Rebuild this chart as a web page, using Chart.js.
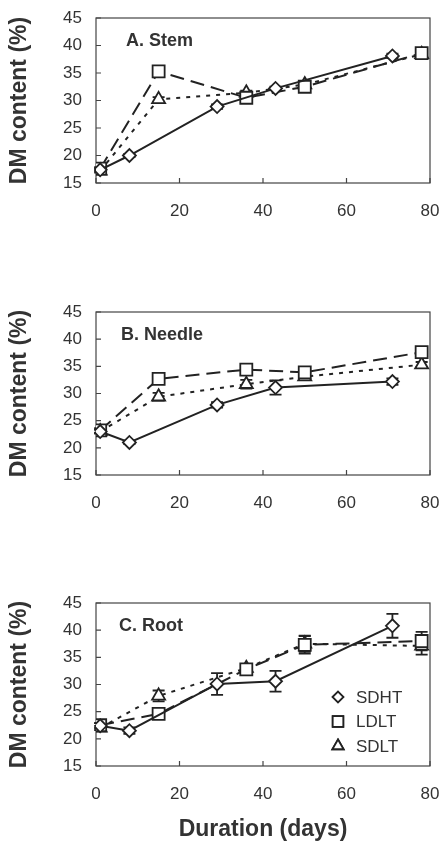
<!DOCTYPE html>
<html>
<head>
<meta charset="utf-8">
<script src="https://cdn.jsdelivr.net/npm/chart.js@4.4.0/dist/chart.umd.min.js"></script>
<style>
  html, body { margin: 0; padding: 0; background: #fff; }
  .panel { position: absolute; left: 0; width: 443px; }
</style>
</head>
<body>
<div class="panel" style="top:0;height:230px"><canvas id="stem"></canvas></div>
<div class="panel" style="top:290px;height:230px"><canvas id="needle"></canvas></div>
<div class="panel" style="top:580px;height:263px"><canvas id="root"></canvas></div>
<script>
// sampling days
const sdhtDays = [1, 8, 29, 43, 71];
const ltDays = [1, 15, 36, 50, 78];
const seriesNames = ['SDHT', 'LDLT', 'SDLT'];

// A. Stem
const stemSDHT = [17.4, 20.0, 28.9, 32.2, 38.1];
const stemLDLT = [17.6, 35.3, 30.5, 32.5, 38.6];
const stemSDLT = [17.2, 30.2, 31.4, 32.9, 38.4];
const stemErrSDHT = [0.3, 0.3, 0.4, 0.3, 0.4];
const stemErrLDLT = [0.3, 0.4, 0.4, 0.4, 0.4];
const stemErrSDLT = [0.3, 0.4, 0.4, 0.4, 0.4];

// B. Needle
const needleSDHT = [23.0, 21.0, 27.9, 31.1, 32.2];
const needleLDLT = [23.2, 32.7, 34.4, 33.9, 37.6];
const needleSDLT = [23.0, 29.4, 31.7, 33.1, 35.3];
const needleErrSDHT = [0.4, 0.3, 0.5, 1.3, 0.6];
const needleErrLDLT = [0.4, 0.6, 0.5, 0.5, 0.6];
const needleErrSDLT = [0.3, 0.7, 0.8, 0.5, 0.5];

// C. Root
const rootSDHT = [22.4, 21.5, 30.1, 30.6, 40.8];
const rootLDLT = [22.5, 24.6, 32.8, 37.3, 38.0];
const rootSDLT = [22.0, 27.9, 33.0, 37.5, 37.1];
const rootErrSDHT = [0.5, 0.6, 2.0, 1.9, 2.2];
const rootErrLDLT = [0.4, 0.5, 0.7, 1.6, 1.7];
const rootErrSDLT = [0.4, 1.0, 0.7, 1.5, 1.6];

const yMin = 15, yMax = 45, yStep = 5;
const xMin = 0, xMax = 80, xStep = 20;

const ink = '#222';
const FONT = "'Liberation Sans', Arial, Helvetica, sans-serif";
Chart.defaults.font.family = FONT;
Chart.defaults.color = '#333';

const styles = [
  { pointStyle: 'rectRot', pointRadius: 6.5, borderDash: [] },
  { pointStyle: 'rect', pointRadius: 8.5, borderDash: [14, 7] },
  { pointStyle: 'triangle', pointRadius: 7.5, borderDash: [4, 6] }
];

const paperPlugin = {
  id: 'paper',
  beforeDatasetsDraw(chart) {
    const { ctx, chartArea: a, scales: { x, y } } = chart;
    ctx.save();
    ctx.strokeStyle = '#444';
    ctx.lineWidth = 1.2;
    ctx.strokeRect(a.left, a.top, a.right - a.left, a.bottom - a.top);
    ctx.beginPath();
    y.ticks.forEach(t => {
      const py = y.getPixelForValue(t.value);
      ctx.moveTo(a.left, py); ctx.lineTo(a.left + 5, py);
    });
    x.ticks.forEach(t => {
      const px = x.getPixelForValue(t.value);
      ctx.moveTo(px, a.bottom); ctx.lineTo(px, a.bottom - 5);
    });
    ctx.stroke();

    // error bars
    ctx.strokeStyle = ink;
    ctx.lineWidth = 1.8;
    chart.data.datasets.forEach(ds => {
      ds.data.forEach((p, i) => {
        const e = ds.err[i];
        if (!e) return;
        const px = x.getPixelForValue(p.x);
        const top = y.getPixelForValue(p.y + e);
        const bot = y.getPixelForValue(p.y - e);
        ctx.beginPath();
        ctx.moveTo(px, top); ctx.lineTo(px, bot);
        ctx.moveTo(px - 6, top); ctx.lineTo(px + 6, top);
        ctx.moveTo(px - 6, bot); ctx.lineTo(px + 6, bot);
        ctx.stroke();
      });
    });
    ctx.restore();
  },
  afterDraw(chart, args, opts) {
    const { ctx, chartArea: a } = chart;
    ctx.save();
    ctx.fillStyle = '#333';
    ctx.font = 'bold 18px ' + FONT;
    ctx.textBaseline = 'alphabetic';
    ctx.textAlign = 'left';
    ctx.fillText(opts.title, a.left + opts.titleX, a.top + 28);

    if (opts.legend) {
      ctx.font = '17px ' + FONT;
      ctx.textBaseline = 'middle';
      chart.data.datasets.forEach((ds, i) => {
        const mx = a.left + 242, my = a.top + 94 + i * 24.5;
        Chart.helpers.drawPoint(ctx, {
          pointStyle: ds.pointStyle, radius: ds.pointRadius - 1, borderWidth: 1.8, rotation: 0
        }, mx, my);
        ctx.fillStyle = '#fff';
        ctx.strokeStyle = ink;
        ctx.lineWidth = 1.8;
        ctx.beginPath();
        Chart.helpers.drawPoint(ctx, {
          pointStyle: ds.pointStyle, radius: ds.pointRadius - 1, borderWidth: 1.8, rotation: 0
        }, mx, my);
        ctx.fillStyle = '#333';
        ctx.fillText(ds.label, mx + 18, my + 1);
      });
    }
    ctx.restore();
  }
};

function makePanel(id, title, titleX, values, errors, padTop, xHeight, withXTitle, withLegend) {
  const datasets = seriesNames.map((name, k) => {
    const days = k === 0 ? sdhtDays : ltDays;
    return {
      label: name,
      data: days.map((d, i) => ({ x: d, y: values[k][i] })),
      err: errors[k],
      showLine: true,
      borderColor: ink,
      borderWidth: 2,
      borderDash: styles[k].borderDash,
      pointStyle: styles[k].pointStyle,
      pointRadius: styles[k].pointRadius,
      pointBackgroundColor: '#fff',
      pointBorderColor: ink,
      pointBorderWidth: 1.8,
      tension: 0
    };
  });

  new Chart(document.getElementById(id), {
    type: 'scatter',
    data: { datasets },
    options: {
      responsive: true,
      maintainAspectRatio: false,
      animation: false,
      layout: { padding: { top: padTop, right: 13, left: 0, bottom: 0 } },
      plugins: {
        legend: { display: false },
        tooltip: { enabled: false },
        paper: { title: title, titleX: titleX, legend: withLegend }
      },
      scales: {
        x: {
          type: 'linear',
          min: xMin, max: xMax,
          ticks: { stepSize: xStep, padding: 18, color: '#333', font: { size: 17 } },
          grid: { display: false, drawTicks: false },
          border: { display: false },
          title: {
            display: withXTitle, text: 'Duration (days)', color: '#333',
            font: { size: 23, weight: 'bold' }, padding: { top: 0, bottom: 0 }
          },
          afterFit: s => { s.height = xHeight; s.paddingLeft = 0; s.paddingRight = 0; }
        },
        y: {
          min: yMin, max: yMax,
          ticks: { stepSize: yStep, padding: 14, color: '#333', font: { size: 17 } },
          grid: { display: false, drawTicks: false },
          border: { display: false },
          title: {
            display: true, text: 'DM content (%)', color: '#333',
            font: { size: 23, weight: 'bold' }, padding: { top: 6, bottom: 0 }
          },
          afterFit: s => { s.width = 96; s.paddingTop = 0; s.paddingBottom = 0; }
        }
      }
    },
    plugins: [paperPlugin]
  });
}

makePanel('stem', 'A. Stem', 30,
  [stemSDHT, stemLDLT, stemSDLT], [stemErrSDHT, stemErrLDLT, stemErrSDLT],
  18, 47, false, false);
makePanel('needle', 'B. Needle', 25,
  [needleSDHT, needleLDLT, needleSDLT], [needleErrSDHT, needleErrLDLT, needleErrSDLT],
  22, 45, false, false);
makePanel('root', 'C. Root', 23,
  [rootSDHT, rootLDLT, rootSDLT], [rootErrSDHT, rootErrLDLT, rootErrSDLT],
  23, 77, true, true);
</script>
</body>
</html>
